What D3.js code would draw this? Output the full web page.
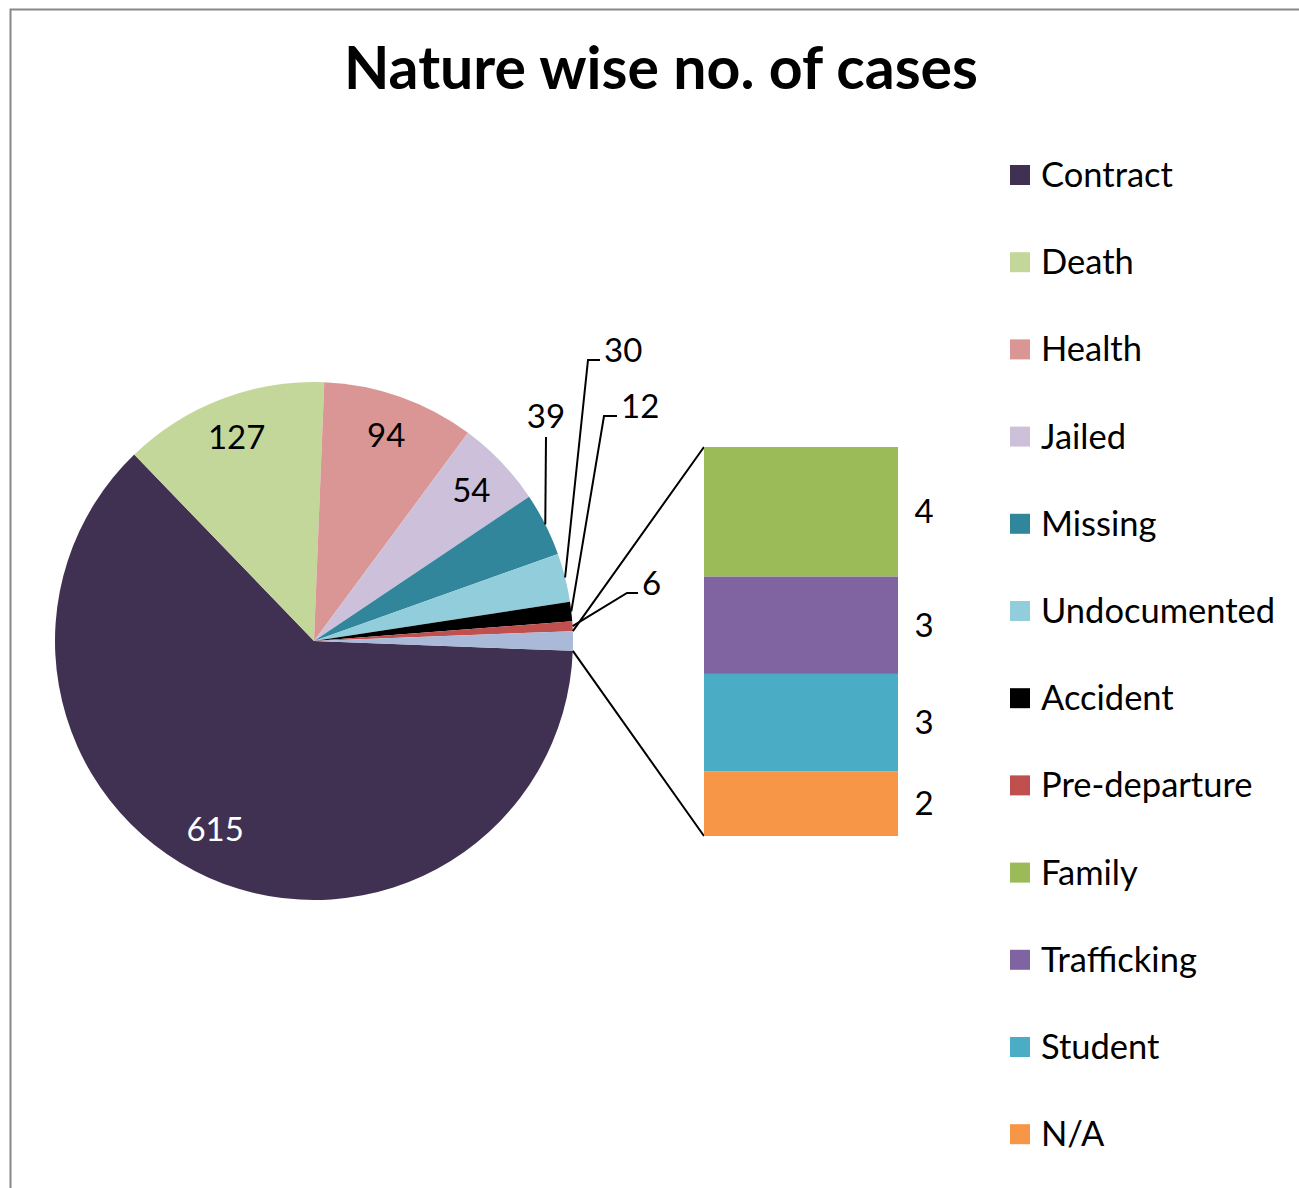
<!DOCTYPE html>
<html>
<head>
<meta charset="utf-8">
<script src="https://cdn.jsdelivr.net/npm/d3@7"></script>
<style>
  body { margin: 0; background: #fff; }
  svg { font-family: Lato, "Open Sans", sans-serif; }
</style>
</head>
<body>
<div id="chart"></div>
<script>
const w = 1299;
const h = 1188;

// main pie data (clockwise from the "Other" slice)
const pieNames = ["Contract", "Death", "Health", "Jailed", "Missing", "Undocumented", "Accident", "Pre-departure"];
const pieValues = [615, 127, 94, 54, 39, 30, 12, 6];
const pieColors = ["#403152", "#c4d79b", "#da9694", "#ccc0da", "#31869b", "#92cddc", "#000000", "#c0504d"];

// split-off bar data (top to bottom)
const barNames = ["Family", "Trafficking", "Student", "N/A"];
const barValues = [4, 3, 3, 2];
const barColors = ["#9bbb59", "#8064a2", "#4bacc6", "#f79646"];
const otherColor = "#a9b9d7";

// label placement for the small slices (end of leader line, relative to pie centre)
const outsideLabels = {
  "Missing":      {x: 232, y: -204, hook: 0},
  "Undocumented": {x: 274, y: -281, hook: 12},
  "Accident":     {x: 290, y: -225, hook: 13},
  "Pre-departure":{x: 313, y: -48,  hook: 11}
};

const cx = 314, cy = 641, r = 259;
const barX = 704, barW = 194, barTop = 447, barBottom = 836;

const svg = d3.select("#chart")
  .append("svg")
  .attr("width", w)
  .attr("height", h);

// chart frame
svg.append("path")
  .attr("d", "M10.5," + h + "V9.5H" + w)
  .attr("fill", "none")
  .attr("stroke", "#888")
  .attr("stroke-width", 2);

svg.append("text")
  .attr("x", 661)
  .attr("y", 89)
  .attr("text-anchor", "middle")
  .style("font-size", "59px")
  .style("font-weight", "bold")
  .text("Nature wise no. of cases");

const otherTotal = d3.sum(barValues);
const total = d3.sum(pieValues) + otherTotal;
const otherAngle = otherTotal / total * 2 * Math.PI;

const slices = pieNames.map((n, i) => ({name: n, value: pieValues[i], color: pieColors[i]}));
slices.push({name: "Other", value: otherTotal, color: otherColor});

const start = Math.PI / 2 + otherAngle / 2;
const pie = d3.pie()
  .sort(null)
  .value(d => d.value)
  .startAngle(start)
  .endAngle(start + 2 * Math.PI);

const arcs = pie(slices);
const arc = d3.arc().innerRadius(0).outerRadius(r);
const labelArc = d3.arc().innerRadius(r * 0.84).outerRadius(r * 0.84);

const g = svg.append("g").attr("transform", "translate(" + cx + "," + cy + ")");

g.selectAll(".slice")
  .data(arcs)
  .enter()
  .append("path")
  .attr("class", "slice")
  .attr("d", arc)
  .attr("fill", d => d.data.color);

// inside labels
g.selectAll(".in-label")
  .data(arcs.filter(d => d.data.value >= 50))
  .enter()
  .append("text")
  .attr("class", "in-label")
  .attr("transform", d => {
    const c = labelArc.centroid(d);
    // the big slice's label sits a little further round, as in the original
    if (d.data.name === "Contract") { c[0] -= 10; c[1] -= 10; }
    return "translate(" + c + ")";
  })
  .attr("text-anchor", "middle")
  .attr("dy", "0.35em")
  .style("font-size", "33px")
  .attr("fill", d => d.data.name === "Contract" ? "#fff" : "#000")
  .text(d => d.data.value);

// outside labels with leader lines
const outs = arcs.filter(d => outsideLabels[d.data.name]);
outs.forEach(d => {
  const a = (d.startAngle + d.endAngle) / 2;
  const ex = r * Math.sin(a), ey = -r * Math.cos(a);
  const L = outsideLabels[d.data.name];
  g.append("path")
    .attr("d", "M" + ex + "," + ey + "L" + L.x + "," + L.y + "h" + L.hook)
    .attr("fill", "none")
    .attr("stroke", "#000")
    .attr("stroke-width", 2);
  const t = g.append("text")
    .style("font-size", "33px")
    .text(d.data.value);
  if (L.hook === 0) {
    t.attr("x", L.x).attr("y", L.y - 9).attr("text-anchor", "middle");
  } else {
    t.attr("x", L.x + L.hook + 4).attr("y", L.y - 10).attr("dy", "0.35em");
  }
});

// connector lines from "Other" slice to the bar
const o = arcs[arcs.length - 1];
const p1 = [cx + r * Math.sin(o.startAngle), cy - r * Math.cos(o.startAngle)];
const p2 = [cx + r * Math.sin(o.endAngle), cy - r * Math.cos(o.endAngle)];
svg.append("path")
  .attr("d", "M" + p1 + "L" + barX + "," + barTop + "M" + p2 + "L" + barX + "," + barBottom)
  .attr("fill", "none")
  .attr("stroke", "#000")
  .attr("stroke-width", 2);

// stacked bar
const y = d3.scaleLinear().domain([0, otherTotal]).range([barTop, barBottom]);
let acc = 0;
const stack = barNames.map((n, i) => {
  const s = {name: n, value: barValues[i], color: barColors[i], y0: acc, y1: acc + barValues[i]};
  acc += barValues[i];
  return s;
});

svg.selectAll(".bar")
  .data(stack)
  .enter()
  .append("rect")
  .attr("class", "bar")
  .attr("x", barX)
  .attr("width", barW)
  .attr("y", d => y(d.y0))
  .attr("height", d => y(d.y1) - y(d.y0))
  .attr("fill", d => d.color);

svg.selectAll(".bar-label")
  .data(stack)
  .enter()
  .append("text")
  .attr("class", "bar-label")
  .attr("x", barX + barW + 26)
  .attr("y", d => y((d.y0 + d.y1) / 2))
  .attr("dy", "0.35em")
  .attr("text-anchor", "middle")
  .style("font-size", "33px")
  .text(d => d.value);

// legend
const legendItems = slices.filter(d => d.name !== "Other")
  .concat(stack.map(d => ({name: d.name, color: d.color})));

const legend = svg.append("g").attr("transform", "translate(1010,175)");
const row = legend.selectAll(".legend-row")
  .data(legendItems)
  .enter()
  .append("g")
  .attr("class", "legend-row")
  .attr("transform", (d, i) => "translate(0," + i * 87.2 + ")");

row.append("rect")
  .attr("y", -10)
  .attr("width", 20)
  .attr("height", 20)
  .attr("fill", d => d.color);

row.append("text")
  .attr("x", 31)
  .attr("dy", "0.35em")
  .style("font-size", "34.5px")
  .text(d => d.name);
</script>
</body>
</html>
